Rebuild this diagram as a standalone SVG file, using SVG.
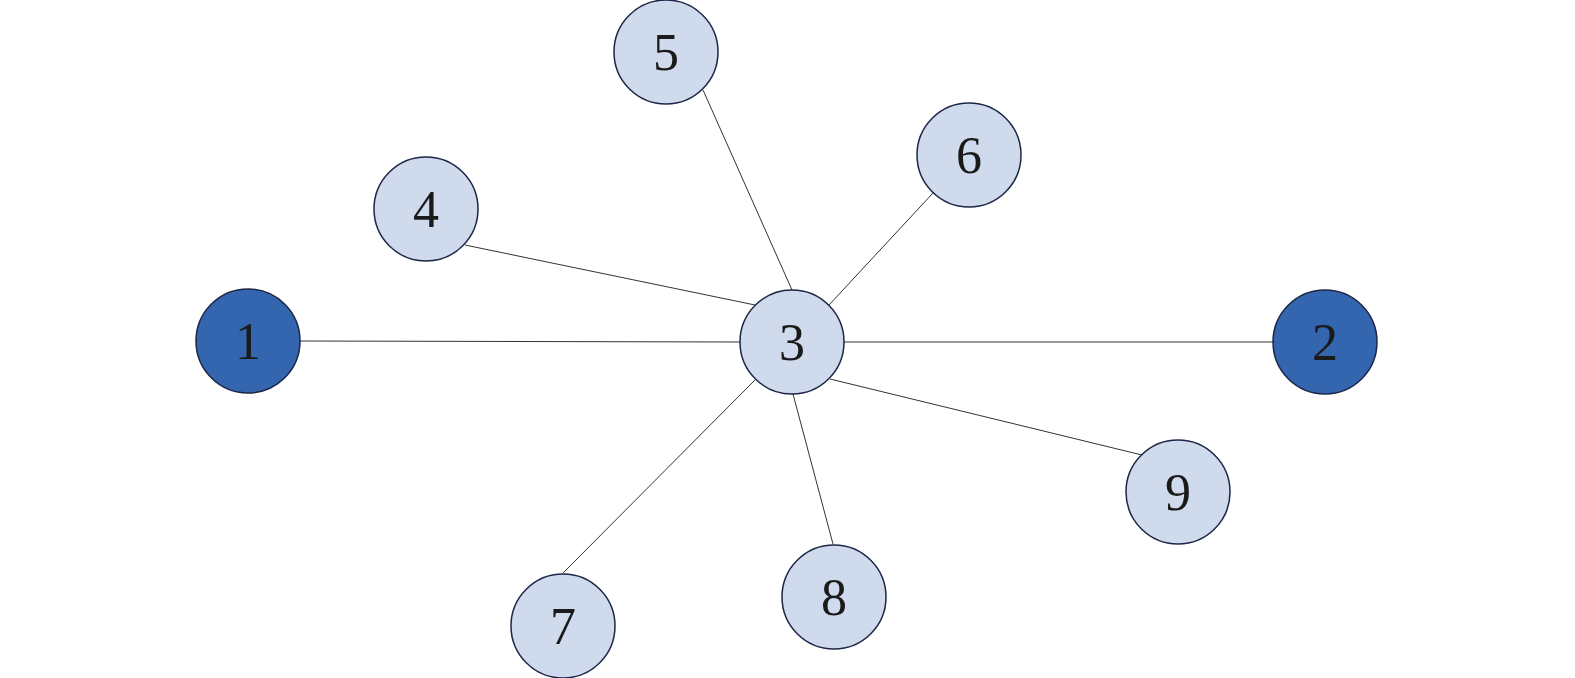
<svg xmlns="http://www.w3.org/2000/svg" width="1575" height="678" viewBox="0 0 1575 678">
<style>
.n circle{stroke:#1c2647;stroke-width:1.5}
.l circle{fill:#cfdaed}
.d circle{fill:#3465af}
.n text{font-family:"Liberation Serif",serif;font-size:52px;fill:#1a1a1a;text-anchor:middle}
.e line{stroke:#333;stroke-width:1}
</style>
<rect width="1575" height="678" fill="#fff"/>
<g id="edges" class="e">
<line x1="300" y1="341" x2="741" y2="342"/>
<line x1="1273" y1="342" x2="843" y2="342"/>
<line x1="465" y1="245" x2="755" y2="305"/>
<line x1="703" y1="90" x2="792" y2="290"/>
<line x1="933" y1="193" x2="829" y2="305"/>
<line x1="755" y1="380" x2="563" y2="573"/>
<line x1="793" y1="394" x2="833" y2="544"/>
<line x1="830" y1="379" x2="1142" y2="455"/>
</g>
<g id="node1" class="n d"><circle cx="248" cy="341" r="52"/><text x="248" y="359">1</text></g>
<g id="node2" class="n d"><circle cx="1325" cy="342" r="52"/><text x="1325" y="360">2</text></g>
<g id="node3" class="n l"><circle cx="792" cy="342" r="52"/><text x="792" y="360">3</text></g>
<g id="node4" class="n l"><circle cx="426" cy="209" r="52"/><text x="426" y="227">4</text></g>
<g id="node5" class="n l"><circle cx="666" cy="52" r="52"/><text x="666" y="70">5</text></g>
<g id="node6" class="n l"><circle cx="969" cy="155" r="52"/><text x="969" y="173">6</text></g>
<g id="node7" class="n l"><circle cx="563" cy="626" r="52"/><text x="563" y="644">7</text></g>
<g id="node8" class="n l"><circle cx="834" cy="597" r="52"/><text x="834" y="615">8</text></g>
<g id="node9" class="n l"><circle cx="1178" cy="492" r="52"/><text x="1178" y="510">9</text></g>
</svg>
